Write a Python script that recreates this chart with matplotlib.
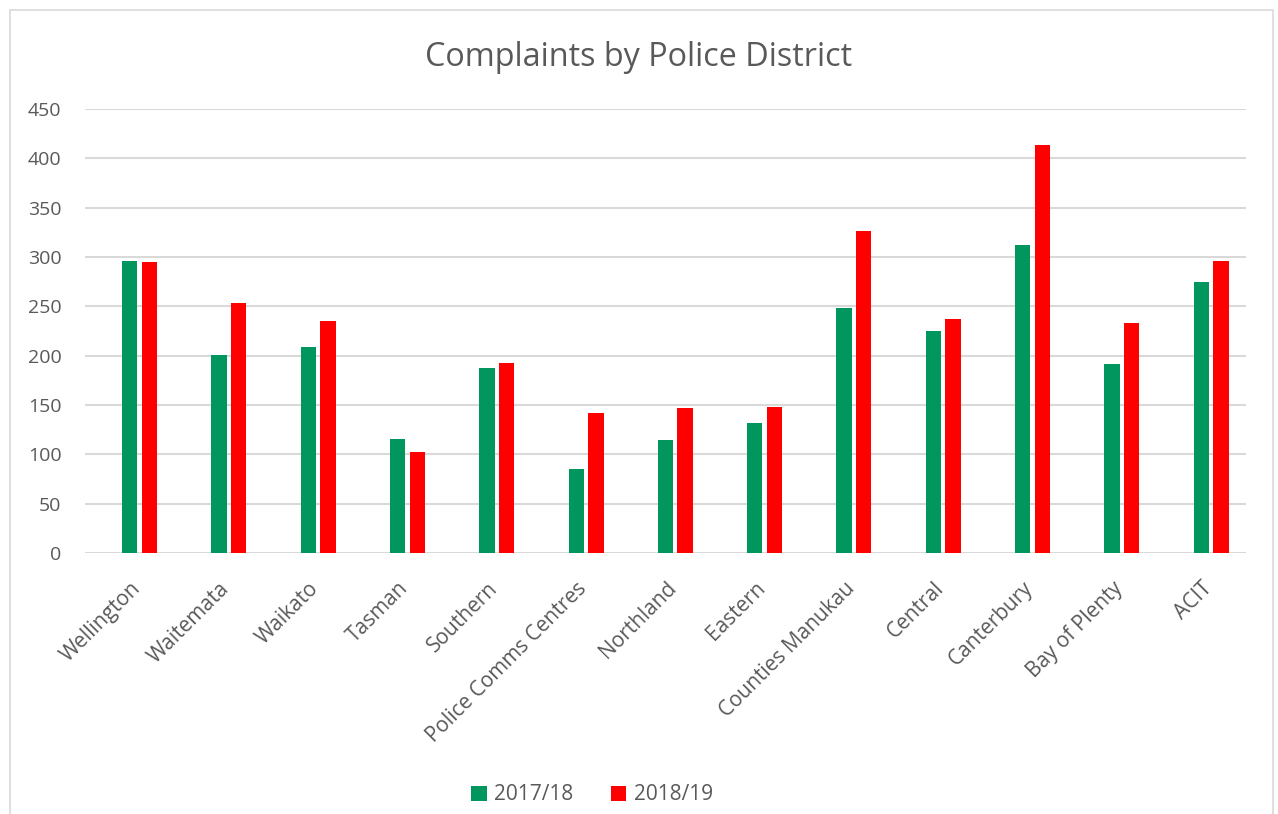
import numpy as np
import matplotlib
matplotlib.use('Agg')
import matplotlib.pyplot as plt
from matplotlib.patches import Rectangle

plt.rcParams['font.family'] = ['Open Sans', 'DejaVu Sans']

districts = ['Wellington', 'Waitemata', 'Waikato', 'Tasman', 'Southern',
             'Police Comms Centres', 'Northland', 'Eastern', 'Counties Manukau',
             'Central', 'Canterbury', 'Bay of Plenty', 'ACIT']
y2017 = [296, 201, 209, 116, 187, 85, 115, 132, 248, 225, 312, 192, 275]
y2018 = [295, 253, 235, 102, 193, 142, 147, 148, 326, 237, 414, 233, 296]

green = '#00965E'
red = '#FF0000'
text_col = '#595959'
grid_col = '#D9D9D9'

fig = plt.figure(figsize=(12.78, 8.14), dpi=100)
fig.patches.append(Rectangle((10 / 1278, -0.01), 1263 / 1278, 1 - 10 / 814 + 0.01,
                             transform=fig.transFigure, fill=False,
                             edgecolor=grid_col, linewidth=1.2))

ax = fig.add_axes([85 / 1278, 1 - 553 / 814, (1246 - 85) / 1278, (553 - 109) / 814])

# excel cluster: green sits on the category centre, red one bar-step to the right
x = np.arange(len(districts))
w = 0.172
step = 0.22
ax.bar(x, y2017, w, color=green, label='2017/18', zorder=3)
ax.bar(x + step, y2018, w, color=red, label='2018/19', zorder=3)

ax.set_xlim(-0.5, len(districts) - 0.5)
ax.set_ylim(0, 450)
ax.set_yticks(range(0, 451, 50))
ax.grid(axis='y', color=grid_col, linewidth=1.5, zorder=0)
for s in ax.spines.values():
    s.set_visible(False)
ax.tick_params(axis='both', length=0, labelcolor=text_col)
ax.tick_params(axis='y', pad=17, labelsize=14)
ax.set_xticks(x)
ax.set_xticklabels(districts, rotation=45, ha='right', rotation_mode='anchor')
ax.tick_params(axis='x', pad=18, labelsize=15)

fig.text(0.5, 1 - 57 / 814, 'Complaints by Police District', ha='center', va='center',
         fontsize=23.3, color=text_col)

leg = fig.legend(loc='center', bbox_to_anchor=(592 / 1278, 1 - 795 / 814), ncol=2,
                 frameon=False, fontsize=15, handlelength=0.75, handleheight=0.75,
                 columnspacing=1.8, handletextpad=0.35)
for t in leg.get_texts():
    t.set_color(text_col)

plt.savefig('out.png', dpi=100)
